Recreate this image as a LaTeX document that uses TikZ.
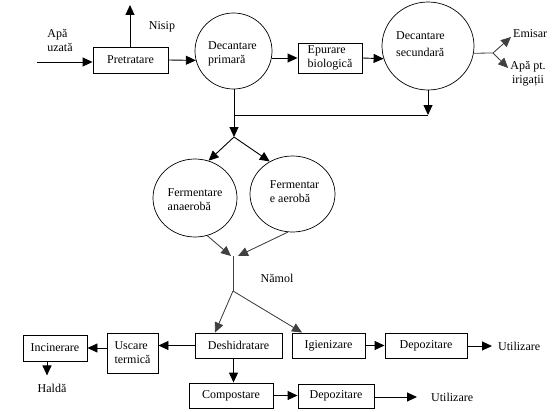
\documentclass[tikz,border=0pt]{standalone}
\usepackage{fontspec}
\setmainfont{Liberation Serif}
\usetikzlibrary{arrows.meta,shapes.geometric}
\begin{document}
\begin{tikzpicture}[x=1pt,y=-1pt,
  font=\fontsize{12}{14}\selectfont,
  box/.style={draw, rectangle, inner sep=0pt, line width=0.9pt},
  oval/.style={draw, ellipse, inner sep=0pt, line width=0.7pt},
  arr/.style={-{Triangle[length=10pt,width=9pt]}, line width=0.9pt},
  ln/.style={line width=0.9pt},
  gl/.style={line width=0.8pt, draw=black!75},
  garr/.style={gl, -{Triangle[length=10pt,width=9pt]}, fill=black},
  lbl/.style={inner sep=0pt, align=left}]
\useasboundingbox (0,0) rectangle (554,412);

% top row
\node[box, minimum width=75pt, minimum height=26pt] (pre) at (130.5,60) {Pretratare};
\node[oval, minimum width=77pt, minimum height=76pt] (dp) at (233.5,51) {};
\node[lbl] (dpt) at (232.5,53.5) {Decantare\\primară};
\node[box, minimum width=64pt, minimum height=30pt, align=left] (epu) at (330,58) {Epurare\\biologică};
\node[oval, minimum width=92pt, minimum height=88pt] (ds) at (428,46) {};
\node[lbl] (dst) at (420.5,44) {Decantare\\[3pt]secundară};

\node[lbl] (apa) at (60,40) {Apă\\uzată};
\node[lbl] (nis) at (162,27) {Nisip};
\node[lbl, anchor=west] (em) at (513,34) {Emisar};
\node[inner sep=0pt, align=center, anchor=north] (ap) at (528,61) {Apă pt.\\irigații};

\coordinate (in1) at (37,62);
\coordinate (nup) at (130,5);
\coordinate (e0) at (493,53);
\coordinate (j1) at (234,115);
\coordinate (j2) at (234,137);

\draw[arr] (in1) -- (pre.west |- in1);
\draw[arr] (pre.north -| nup) -- (nup);
\draw[arr] (pre.east) -- (dp.194);
\draw[arr] (epu.west -| dp.east) -- (epu.west);
\draw[arr] (epu.east) -- (ds.196);
\draw[gl] (ds.-9) -- (e0);
\draw[garr] (e0) -- ([xshift=-2pt,yshift=-3pt]em.west);
\draw[garr] (e0) -- ([xshift=-2pt,yshift=-7pt]ap.north west);

\draw[ln] (dp.south -| j1) -- (j1);
\draw[arr] (j1) -- (j2);
\draw[ln] (j1) -- (ds.south |- j1);
\draw[arr] (ds.south) -- (ds.south |- j1);

% fermentation
\node[oval, minimum width=84pt, minimum height=78pt] (fa) at (195,198) {};
\node[lbl] (fat) at (195,200) {Fermentare\\anaerobă};
\node[oval, minimum width=85pt, minimum height=76pt] (fb) at (292.5,194) {};
\node[lbl] (fbt) at (294.5,192) {Fermentar\\e aerobă};

\draw[arr] (j2) -- (fa.70);
\draw[arr] (j2) -- (fb.125);

\coordinate (m1) at (231,256);
\coordinate (m2) at (238,256);
\coordinate (m0) at (233,256);
\coordinate (j3) at (233,291);
\draw[garr] (fa.-72) -- (m1);
\draw[garr] (fb.-97) -- (m2);
\draw[gl] (m0) -- (j3);
\node[lbl] (nam) at (277,278) {Nămol};

% bottom
\node[box, minimum width=87pt, minimum height=25pt] (des) at (238.5,345.5) {Deshidratare};
\node[box, minimum width=51pt, minimum height=40pt, align=left] (usc) at (132.5,353) {Uscare\\termică};
\node[box, minimum width=64pt, minimum height=26pt] (inc) at (55,348) {Incinerare};
\node[lbl] (hal) at (52,388) {Haldă};
\node[box, minimum width=73pt, minimum height=25pt] (ig) at (328.5,345.5) {Igienizare};
\node[box, minimum width=82pt, minimum height=25pt] (dep1) at (426,345.5) {Depozitare};
\node[lbl, anchor=west] (ut1) at (498,346) {Utilizare};
\node[box, minimum width=84pt, minimum height=25pt] (comp) at (231,395.5) {Compostare};
\node[box, minimum width=76pt, minimum height=24pt] (dep2) at (336,396) {Depozitare};
\node[lbl, anchor=west] (ut2) at (431,397) {Utilizare};

\draw[garr] (j3) -- ([xshift=-23.5pt]des.north);
\draw[garr] (j3) -- ([xshift=-26.5pt]ig.north);
\draw[arr] (des.west) -- (des.west -| usc.east);
\draw[arr] (inc.east -| usc.west) -- (inc.east);
\draw[arr] ([xshift=-8pt]inc.south) -- ([xshift=-8pt,yshift=-14pt]inc.south);
\draw[arr] ([xshift=-5pt]des.south) -- ([xshift=-5pt]des.south |- comp.north);
\draw[arr] (comp.east) -- (comp.east -| dep2.west);
\draw[arr] (dep2.east |- ut2.west) -- ([xshift=-14pt]ut2.west);
\draw[arr] (ig.east) -- (ig.east -| dep1.west);
\draw[arr] (dep1.east |- ut1.west) -- ([xshift=-6pt]ut1.west);
\end{tikzpicture}
\end{document}
